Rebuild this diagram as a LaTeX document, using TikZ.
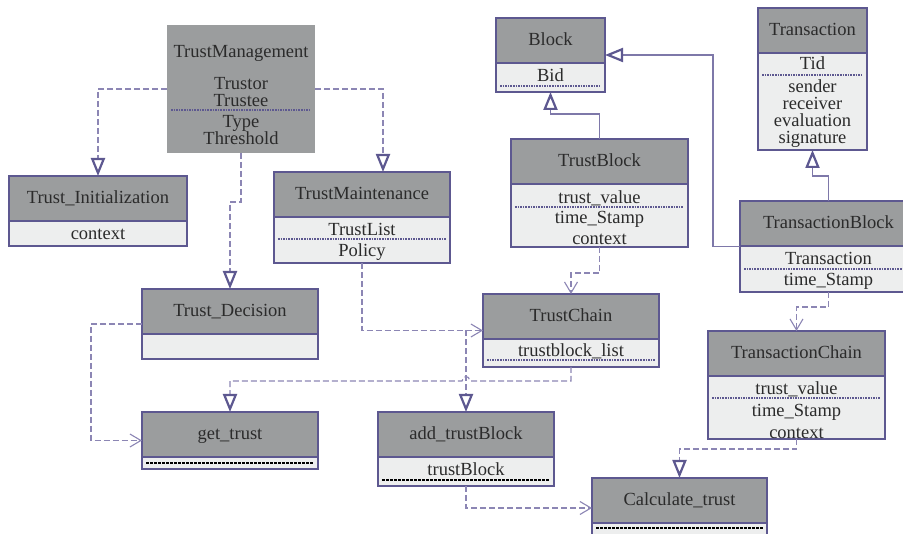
\documentclass[tikz,border=0pt]{standalone}
\usepackage{fontspec}
\setmainfont{Liberation Serif}
\usetikzlibrary{arrows.meta,positioning,calc}
\definecolor{headgray}{HTML}{9B9D9E}
\definecolor{bodygray}{HTML}{EDEEEE}
\definecolor{umlpurple}{HTML}{5D5890}
\definecolor{linkpurple}{HTML}{8C86B4}
\definecolor{inkgray}{HTML}{2B2B2B}
\tikzstyle{classbox}=[draw=umlpurple, fill=bodygray, line width=1.6pt,
  inner sep=0pt, outer sep=0pt]
\tikzstyle{classhead}=[classbox, fill=headgray, minimum height=45pt,
  anchor=north, text=inkgray, font=\fontsize{18.5}{20}\selectfont,
  text height=10pt, text depth=0pt]
\tikzstyle{attr}=[text=inkgray, font=\fontsize{18.5}{20}\selectfont,
  inner sep=0pt, text height=11pt, text depth=0pt]
\tikzstyle{dotline}=[draw=umlpurple, line width=1.1pt, dash pattern=on 1.6pt off 1pt]
\tikzstyle{blkline}=[draw=black, line width=1.4pt, dash pattern=on 3pt off 1pt]
\tikzstyle{dep}=[draw=linkpurple, line width=1.2pt, dash pattern=on 6pt off 3pt]
\tikzstyle{gen}=[draw=linkpurple!70!umlpurple, line width=1.1pt]
\tikzstyle{hollow}=[-{Triangle[open, length=18pt, width=14pt, line width=2.2pt, color=umlpurple]}]
\tikzstyle{barb}=[-{Straight Barb[length=11pt, width=13pt, line width=1.1pt]}]
\newcommand{\klass}[4]{node (#1)[classbox, minimum width=#2, minimum height=#3]{}
  node (#1h)[classhead, minimum width=#2] at (#1.north){#4}}
\newcommand{\attr}[3]{node (#1)[attr] at #2 {#3}}
\newcommand{\dotsep}[2]{\draw[dotline] ($(#1.west |- 0,#2)+(4,0)$) -- ($(#1.east |- 0,#2)+(-4,0)$);}
\newcommand{\blksep}[2]{\draw[blkline] ($(#1.west |- 0,#2)+(4,0)$) -- ($(#1.east |- 0,#2)+(-4,0)$);}

\begin{document}
\begin{tikzpicture}[x=1pt,y=-1pt]
	\useasboundingbox (0,0) rectangle (903,534);
	\clip (0,0) rectangle (903,534);

	% Draw classes
	\node (tm)[fill=headgray, minimum width=148pt, minimum height=128pt,
	  inner sep=0pt, outer sep=0pt] at (241,89) {};
	\path \attr{tm0}{(241,52)}{TrustManagement};
	\path \attr{tm1}{(241,84)}{Trustor};
	\path \attr{tm2}{(241,101)}{Trustee};
	\dotsep{tm}{110}
	\path \attr{tm3}{(241,122)}{Type};
	\path \attr{tm4}{(241,139)}{Threshold};

	\path (98,211) \klass{ti}{178pt}{70pt}{Trust\_Initialization};
	\path \attr{ti1}{(98,234)}{context};

	\path (362,217.5) \klass{tmt}{176pt}{91pt}{TrustMaintenance};
	\path \attr{tmt1}{(362,230)}{TrustList};
	\dotsep{tmt}{239}
	\path \attr{tmt2}{(362,251)}{Policy};

	\path (230,324) \klass{td}{176pt}{70pt}{Trust\_Decision};

	\path (230,440.5) \klass{gt}{176pt}{57pt}{get\_trust};
	\blksep{gt}{463}

	\path (466,449) \klass{at}{176pt}{74pt}{add\_trustBlock};
	\path \attr{at1}{(466,470)}{trustBlock};
	\blksep{at}{480}

	\path (571,330.5) \klass{tc}{176pt}{73pt}{TrustChain};
	\path \attr{tc1}{(571,351)}{trustblock\_list};
	\dotsep{tc}{360}

	\path (599.5,193) \klass{tb}{177pt}{108pt}{TrustBlock};
	\path \attr{tb1}{(599.5,198)}{trust\_value};
	\dotsep{tb}{207}
	\path \attr{tb2}{(599.5,218)}{time\_Stamp};
	\path \attr{tb3}{(599.5,239)}{context};

	\path (550.5,55) \klass{bl}{109pt}{74pt}{Block};
	\path \attr{bl1}{(550.5,76)}{Bid};
	\dotsep{bl}{86}

	\path (812.5,79) \klass{tr}{109pt}{142pt}{Transaction};
	\path \attr{tr1}{(812.5,64)}{Tid};
	\dotsep{tr}{75}
	\path \attr{tr2}{(812.5,87)}{sender};
	\path \attr{tr3}{(812.5,104)}{receiver};
	\path \attr{tr4}{(812.5,121)}{evaluation};
	\path \attr{tr5}{(812.5,138)}{signature};

	\path (828.5,246.5) \klass{txb}{177pt}{91pt}{TransactionBlock};
	\path \attr{txb1}{(828.5,259)}{Transaction};
	\dotsep{txb}{269}
	\path \attr{txb2}{(828.5,280)}{time\_Stamp};

	\path (796.5,385) \klass{txc}{177pt}{108pt}{TransactionChain};
	\path \attr{txc1}{(796.5,389)}{trust\_value};
	\dotsep{txc}{398}
	\path \attr{txc2}{(796.5,411)}{time\_Stamp};
	\path \attr{txc3}{(796.5,433)}{context};

	\path (679.5,508) \klass{ct}{175pt}{60pt}{Calculate\_trust};
	\blksep{ct}{528}

	% Draw connectors
	\coordinate (hopR) at (470,381);
	\coordinate (hopL) at (462,381);
	\coordinate (tmj) at (at.north |- tc.west);

	\draw[dep,hollow] (tm.west) -| (ti.north);
	\draw[dep,hollow] (tm.east) -| ([xshift=21pt]tmt.north);
	\draw[dep,hollow] (tm.south) -- ++(0,49) -| (td.north);
	\draw[dep,barb] (td.west) -- ++(-51,0) |- (gt.west);
	\draw[dep,hollow] (tc.south) -- ++(0,14) -- (hopR)
	  .. controls (469,375) and (463,375) .. (hopL) -| (gt.north);
	\draw[dep,barb] (tmt.south) |- (tc.west);
	\draw[dep,hollow] (tmj) -- (at.north);
	\draw[dep,barb] (tb.south) -- ++(0,26) -| (tc.north);
	\draw[gen,hollow] (tb.north) -- ++(0,-25) -| (bl.south);
	\draw[gen,hollow] (txb.west) -- ++(-27,0) |- (bl.east);
	\draw[gen,hollow] (txb.north) -- ++(0,-25) -| (tr.south);
	\draw[dep,barb] (txb.south) -- ++(0,15) -| (txc.north);
	\draw[dep,hollow] (txc.south) -- ++(0,10) -| (ct.north);
	\draw[dep,barb] (at.south) |- (ct.west);

\end{tikzpicture}
\end{document}
